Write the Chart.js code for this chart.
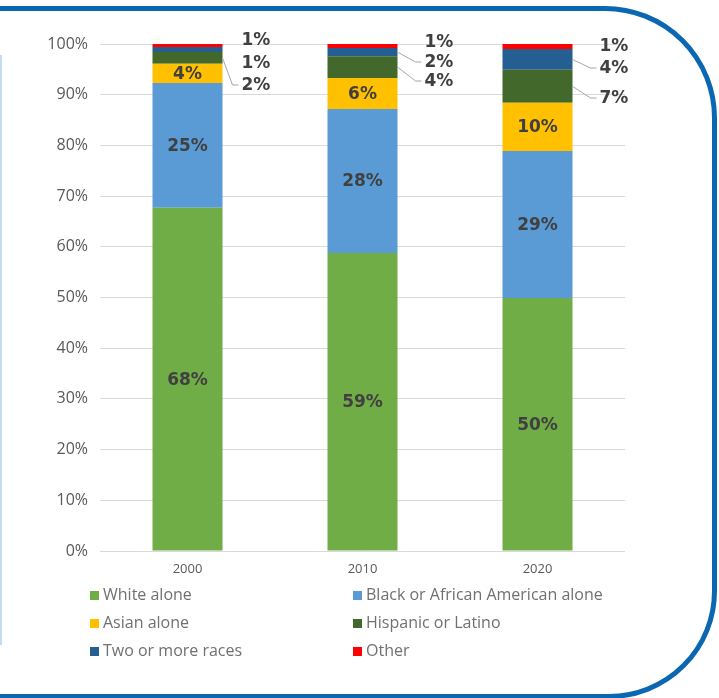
<!DOCTYPE html>
<html>
<head>
<meta charset="utf-8">
<script src="https://cdn.jsdelivr.net/npm/chart.js@4"></script>
<style>
  html, body { margin: 0; padding: 0; background: #fff; overflow: hidden; }
  #wrap { position: relative; width: 719px; height: 698px; }
  #frame {
    position: absolute; left: -30px; top: 6px; width: 747px; height: 693px;
    box-sizing: border-box; border: 5px solid #0b67b2; border-radius: 0 112px 108px 0;
  }
  #leftLine { position: absolute; left: 0; top: 55px; width: 2px; height: 590px; background: #c5dcef; }
  #chartBox { position: absolute; left: 0; top: 0; width: 719px; height: 698px; }
  .leg { position: absolute; font-family: "Open Sans", sans-serif; font-size: 16px; color: #707070; white-space: nowrap; line-height: 20px; }
  .leg i { display: inline-block; width: 9px; height: 9px; margin-right: 4px; vertical-align: 0px; }
</style>
</head>
<body>
<div id="wrap">
  <div id="frame"></div>
  <div id="leftLine"></div>
  <div id="chartBox"><canvas id="chart"></canvas></div>
  <div id="legend"></div>
</div>
<script>
// categories and series (percent of population)
const years = ['2000', '2010', '2020'];
const seriesNames = ['White alone', 'Black or African American alone', 'Asian alone', 'Hispanic or Latino', 'Two or more races', 'Other'];
const whiteAlone = [67.7, 58.8, 49.9];
const blackAlone = [24.6, 28.4, 29.0];
const asianAlone = [3.8, 6.1, 9.5];
const hispanic = [2.3, 4.3, 6.5];
const twoOrMore = [1.0, 1.6, 4.1];
const other = [0.6, 0.8, 1.0];
const yTicks = [0, 10, 20, 30, 40, 50, 60, 70, 80, 90, 100];

const colors = ['#70AD47', '#5B9BD5', '#FFC000', '#43682B', '#255E91', '#FF0000'];
const seriesData = [whiteAlone, blackAlone, asianAlone, hispanic, twoOrMore, other];

// which series get a label inside the bar, which get one beside it
const insideSeries = [0, 1, 2];
const outsideSeries = [5, 4, 3];
// label placement beside each bar: offset from plot top, leader line on/off
const outsideY = [[-4, 19, 41], [-2, 18, 37], [2, 24, 54]];
const outsideLeader = [[false, false, true], [false, true, true], [false, true, true]];
const outsideX = [19, 27, 27];

const labelPlugin = {
  id: 'segLabels',
  afterDatasetsDraw(chart) {
    const ctx = chart.ctx;
    const top = chart.scales.y.top;
    ctx.save();
    ctx.font = 'bold 17px "DejaVu Sans"';
    ctx.fillStyle = '#404040';
    ctx.textBaseline = 'middle';
    ctx.textAlign = 'center';
    insideSeries.forEach(di => {
      chart.getDatasetMeta(di).data.forEach((bar, i) => {
        const v = chart.data.datasets[di].data[i];
        ctx.fillText(Math.round(v) + '%', bar.x, (bar.y + bar.base) / 2 + 1);
      });
    });
    ctx.textAlign = 'left';
    outsideSeries.forEach((di, k) => {
      chart.getDatasetMeta(di).data.forEach((bar, i) => {
        const v = chart.data.datasets[di].data[i];
        const right = bar.x + bar.width / 2;
        const lx = right + outsideX[i];
        const ly = top + outsideY[i][k];
        if (outsideLeader[i][k]) {
          ctx.strokeStyle = '#a6a6a6';
          ctx.lineWidth = 1;
          ctx.beginPath();
          ctx.moveTo(right, (bar.y + bar.base) / 2);
          ctx.lineTo(lx - 9, ly);
          ctx.lineTo(lx - 3, ly);
          ctx.stroke();
        }
        ctx.fillText(Math.round(v) + '%', lx, ly + 1);
      });
    });
    ctx.restore();
  }
};

new Chart(document.getElementById('chart'), {
  type: 'bar',
  data: {
    labels: years,
    datasets: seriesNames.map((name, i) => ({
      label: name,
      data: seriesData[i],
      backgroundColor: colors[i],
      borderWidth: 0,
      categoryPercentage: 1,
      barPercentage: 0.4
    }))
  },
  plugins: [labelPlugin],
  options: {
    responsive: true,
    maintainAspectRatio: false,
    animation: false,
    layout: { padding: { left: 0, right: 94, top: 44, bottom: 117 } },
    plugins: { legend: { display: false }, tooltip: { enabled: false } },
    scales: {
      x: {
        stacked: true,
        offset: true,
        grid: { display: false, drawTicks: false },
        border: { display: false },
        ticks: { color: '#595959', font: { family: 'Open Sans', size: 13 }, padding: 10 },
        afterFit(scale) { scale.height = 30; }
      },
      y: {
        stacked: true,
        min: 0,
        max: 100,
        afterBuildTicks(scale) { scale.ticks = yTicks.map(v => ({ value: v })); },
        grid: { color: '#d9d9d9', drawTicks: false },
        border: { display: false },
        ticks: {
          color: '#595959',
          font: { family: 'Open Sans', size: 16 },
          padding: 12,
          callback: v => v + '%'
        },
        afterFit(scale) { scale.width = 100; }
      }
    }
  }
});

// legend in two columns, three rows
const legend = document.getElementById('legend');
seriesNames.forEach((name, i) => {
  const el = document.createElement('div');
  el.className = 'leg';
  el.style.left = (i % 2 === 0 ? 90 : 353) + 'px';
  el.style.top = (584 + Math.floor(i / 2) * 28) + 'px';
  el.innerHTML = '<i style="background:' + colors[i] + '"></i>' + name;
  legend.appendChild(el);
});
</script>
</body>
</html>
